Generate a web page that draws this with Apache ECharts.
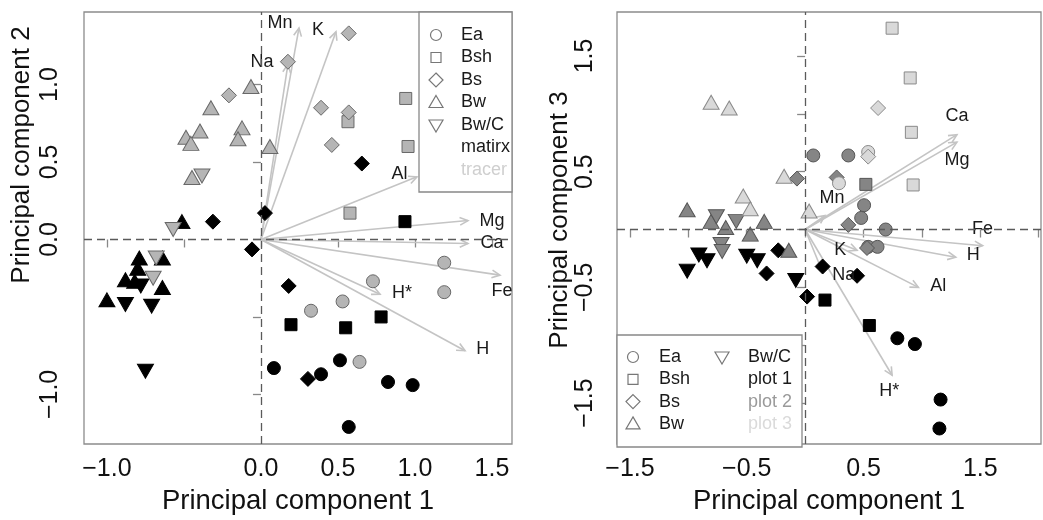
<!DOCTYPE html>
<html><head><meta charset="utf-8">
<script src="https://cdn.jsdelivr.net/npm/echarts@6/dist/echarts.min.js"></script>
<style>html,body{margin:0;padding:0;background:#fff}#c{width:1043px;height:520px}</style>
</head><body><div id="c"></div>
<script>
// ---------- DATA ----------
// Left panel: PC1 vs PC2, group = matrix / tracer
const leftPC1 = [
  -0.513,-0.312,0.026,-0.058,-0.79,-0.64,-0.80,-0.88,-0.82,-0.78,-0.64,-1.0,-0.88,-0.71,-0.75,0.18,0.195,0.084,0.305,0.935,0.78,0.55,0.513,0.39,0.825,0.985,0.57,0.655,
  0.175,-0.208,-0.065,-0.325,-0.396,-0.487,-0.455,-0.123,-0.149,0.058,-0.448,-0.383,-0.57,-0.68,-0.70,0.57,0.39,0.57,0.565,0.94,0.46,0.955,0.578,1.19,0.727,1.19,0.53,0.325,0.64
];
const leftPC2 = [
  0.115,0.115,0.17,-0.064,-0.12,-0.12,-0.186,-0.26,-0.27,-0.30,-0.31,-0.39,-0.42,-0.43,-0.85,-0.30,-0.55,-0.83,-0.90,0.115,-0.50,-0.57,-0.78,-0.87,-0.92,-0.94,-1.21,0.49,
  1.147,0.93,0.987,0.85,0.70,0.66,0.62,0.72,0.65,0.60,0.40,0.41,0.064,-0.12,-0.25,1.33,0.85,0.82,0.76,0.91,0.61,0.60,0.17,-0.15,-0.27,-0.34,-0.40,-0.46,-0.79
];
const leftHorizon = [
  'Bw','Bs','Bs','Bs','Bw','Bw','Bw','Bw','Bw','Bw/C','Bw','Bw','Bw/C','Bw/C','Bw/C','Bs','Bsh','Ea','Bs','Bsh','Bsh','Bsh','Ea','Ea','Ea','Ea','Ea','Bs',
  'Bs','Bs','Bw','Bw','Bw','Bw','Bw','Bw','Bw','Bw','Bw','Bw/C','Bw/C','Bw/C','Bw/C','Bs','Bs','Bs','Bsh','Bsh','Bs','Bsh','Bsh','Ea','Ea','Ea','Ea','Ea','Ea'
];
const leftGroup = [].concat(Array(28).fill('matrix'), Array(29).fill('tracer'));

const leftVars = ['Mn','Na','K','Al','Mg','Ca','Fe','H*','H'];
const leftLoadX = [0.247,0.175,0.487,1.013,1.344,1.344,1.552,0.773,1.325];
const leftLoadY = [1.365,1.13,1.34,0.404,0.122,-0.026,-0.23,-0.353,-0.718];
const leftLabelX = [0.123,0.006,0.37,0.90,1.50,1.50,1.565,0.915,1.44];
const leftLabelY = [1.395,1.147,1.35,0.42,0.122,-0.026,-0.333,-0.346,-0.71];

// Right panel: PC1 vs PC3, group = plot1 / plot2 / plot3
const rightPC1 = [
  -0.23,-0.91,-0.84,-1.01,-0.50,-0.41,-0.33,-0.08,0.017,0.17,0.15,0.445,0.55,0.79,0.94,1.16,1.15,
  0.07,-0.07,-1.01,-0.76,-0.805,-0.59,-0.68,-0.35,-0.47,-0.72,-0.71,-0.14,0.37,0.27,0.52,0.505,0.48,0.37,0.69,0.54,0.62,0.53,
  -0.805,-0.65,-0.18,-0.53,-0.47,0.034,0.745,0.90,0.625,0.91,0.54,0.54,0.29,0.925
];
const rightPC3 = [
  -0.18,-0.22,-0.27,-0.36,-0.23,-0.27,-0.38,-0.44,-0.58,-0.61,-0.32,-0.40,-0.83,-0.94,-0.99,-1.47,-1.72,
  0.64,0.44,0.17,0.11,0.07,0.07,0.017,0.07,-0.04,-0.13,-0.19,-0.18,0.64,0.45,0.39,0.21,0.10,0.04,0.0,-0.15,-0.15,-0.16,
  1.10,1.05,0.46,0.29,0.18,0.16,1.74,1.31,1.05,0.84,0.67,0.63,0.40,0.385
];
const rightHorizon = [
  'Bs','Bw/C','Bw/C','Bw/C','Bw/C','Bw/C','Bs','Bw/C','Bs','Bsh','Bs','Bs','Bsh','Ea','Ea','Ea','Ea',
  'Ea','Bs','Bw','Bw/C','Bw','Bw/C','Bw','Bw','Bw','Bw/C','Bw/C','Bw','Ea','Bs','Bsh','Ea','Ea','Bs','Ea','Ea','Ea','Bs',
  'Bw','Bw','Bw','Bw','Bw','Bw','Bsh','Bsh','Bs','Bsh','Ea','Bs','Ea','Bsh'
];
const rightGroup = [].concat(Array(17).fill('plot1'), Array(22).fill('plot2'), Array(14).fill('plot3'));

const rightVars = ['Ca','Mg','Mn','Fe','H','K','Al','Na','H*'];
const rightLoadX = [1.30,1.30,0.17,1.52,1.29,0.445,0.97,0.15,0.745];
const rightLoadY = [0.82,0.755,0.12,-0.14,-0.24,-0.18,-0.50,-0.37,-1.26];
const rightLabelX = [1.30,1.30,0.23,1.52,1.44,0.30,1.14,0.33,0.72];
const rightLabelY = [0.98,0.60,0.275,0.0,-0.22,-0.18,-0.49,-0.39,-1.40];

const horizons = ['Ea','Bsh','Bs','Bw','Bw/C'];
const leftTicksX = [-1,-0.5,0,0.5,1,1.5], leftLabelsX = [-1,0,0.5,1,1.5];
const leftTicksY = [-1,-0.5,0,0.5,1], leftLabelsY = [-1,0,0.5,1];
const rightTicksX = [-1.5,-1,-0.5,0,0.5,1,1.5,2], rightLabelsX = [-1.5,-0.5,0.5,1.5];
const rightTicksY = [-1.5,-1,-0.5,0,0.5,1,1.5], rightLabelsY = [-1.5,-0.5,0.5,1.5];

// ---------- STYLE ----------
const FONT = '"Liberation Sans", Arial, Helvetica, sans-serif';
const symbolOf = {Ea:'circle', Bsh:'rect', Bs:'diamond', Bw:'triangle', 'Bw/C':'triangle'};
const sizeOf = {Ea:[13,13], Bsh:[12,12], Bs:[15,15], Bw:[16,14], 'Bw/C':[16,14]};
const groupStyle = {
  matrix:{fill:'#000', border:'#000'}, tracer:{fill:'#b5b5b5', border:'#686868'},
  plot1:{fill:'#000', border:'#000'}, plot2:{fill:'#858585', border:'#555'}, plot3:{fill:'#d9d9d9', border:'#8a8a8a'}
};
const fmt = v => (v < 0 ? '\u2212' : '') + Math.abs(v).toFixed(1);

function pointSeries(pc1, pc2, hor, grp, groups, idx){
  const out = [];
  groups.forEach(g => {
    horizons.forEach(h => {
      const data = [];
      pc1.forEach((x,i) => { if (grp[i]===g && hor[i]===h) data.push([x, pc2[i]]); });
      if (!data.length) return;
      out.push({
        type:'scatter', xAxisIndex:idx, yAxisIndex:idx, z:3, silent:true,
        symbol:symbolOf[h], symbolRotate: h==='Bw/C'?180:0, symbolSize:sizeOf[h],
        itemStyle:{color:groupStyle[g].fill, borderColor:groupStyle[g].border, borderWidth:1, opacity:1},
        data
      });
    });
  });
  return out;
}

function arrowSeries(lx, ly, idx){
  return {
    type:'custom', xAxisIndex:idx, yAxisIndex:idx, z:2, silent:true, clip:false,
    data: lx.map((x,i)=>[x, ly[i]]),
    renderItem:(params, api) => {
      const p0 = api.coord([0,0]);
      const p1 = api.coord([api.value(0), api.value(1)]);
      const ang = Math.atan2(p1[1]-p0[1], p1[0]-p0[0]);
      const L = 9, a = Math.PI/7;
      const h1 = [p1[0]-L*Math.cos(ang-a), p1[1]-L*Math.sin(ang-a)];
      const h2 = [p1[0]-L*Math.cos(ang+a), p1[1]-L*Math.sin(ang+a)];
      const st = {stroke:'#c4c4c4', lineWidth:1.6, fill:null};
      return {type:'group', children:[
        {type:'line', shape:{x1:p0[0], y1:p0[1], x2:p1[0], y2:p1[1]}, style:st},
        {type:'polyline', shape:{points:[h1,p1,h2]}, style:st}
      ]};
    }
  };
}

function labelSeries(names, lx, ly, idx){
  return {
    type:'custom', xAxisIndex:idx, yAxisIndex:idx, z:4, silent:true, clip:false,
    data: lx.map((x,i)=>[x, ly[i]]),
    renderItem:(params, api) => {
      const p = api.coord([api.value(0), api.value(1)]);
      return {type:'text', x:p[0], y:p[1], style:{text:names[params.dataIndex], fill:'#1a1a1a',
        font:'18px ' + FONT, align:'center', verticalAlign:'middle'}};
    }
  };
}

function zeroLines(idx){
  return {
    type:'scatter', xAxisIndex:idx, yAxisIndex:idx, data:[], z:5, silent:true,
    markLine:{silent:true, symbol:'none', animation:false, label:{show:false},
      lineStyle:{color:'#5a5a5a', type:[8,5], width:1.3},
      data:[{xAxis:0},{yAxis:0}]}
  };
}

function xAxis(idx, min, max, ticks, labels){
  return {
    type:'value', gridIndex:idx, min, max, splitLine:{show:false},
    axisLine:{show:false}, axisTick:{show:true, inside:false, length:8, customValues:ticks, lineStyle:{color:'#888', width:1.3}},
    axisLabel:{customValues:labels, formatter:fmt, color:'#111', fontSize:25, fontFamily:FONT, margin:13},
    name:'Principal component 1', nameLocation:'middle', nameGap:43,
    nameTextStyle:{color:'#111', fontSize:27.5, fontFamily:FONT}
  };
}
function yAxis(idx, min, max, ticks, labels, margin){
  return {
    type:'value', gridIndex:idx, min, max, splitLine:{show:false},
    axisLine:{show:false}, axisTick:{show:true, inside:false, length:8, customValues:ticks, lineStyle:{color:'#888', width:1.3}},
    axisLabel:{customValues:labels, formatter:fmt, rotate:90, color:'#111', fontSize:25, fontFamily:FONT, margin, lineHeight:26}
  };
}

function legendSym(h, cx, cy){
  const st = {stroke:'#777', lineWidth:1.2, fill:null};
  if (h==='Ea') return {type:'circle', shape:{cx, cy, r:5.5}, style:st};
  if (h==='Bsh') return {type:'rect', shape:{x:cx-5, y:cy-5, width:10, height:10}, style:st};
  if (h==='Bs') return {type:'polygon', shape:{points:[[cx,cy-7],[cx+7,cy],[cx,cy+7],[cx-7,cy]]}, style:st};
  if (h==='Bw') return {type:'polygon', shape:{points:[[cx,cy-7],[cx+7,cy+5],[cx-7,cy+5]]}, style:st};
  return {type:'polygon', shape:{points:[[cx,cy+7],[cx+7,cy-5],[cx-7,cy-5]]}, style:st};
}
function legendText(t, x, y, color){
  return {type:'text', x, y, style:{text:t, fill:color, font:'18px ' + FONT, align:'left', verticalAlign:'middle'}};
}

const graphics = [];
// left legend
graphics.push({type:'rect', shape:{x:419, y:12, width:93, height:180}, style:{stroke:'#888', lineWidth:1.3, fill:'#fff'}, z:10});
horizons.forEach((h,i)=>{
  const y = 35 + i*22.5;
  graphics.push(Object.assign(legendSym(h, 436, y), {z:11}));
  graphics.push(Object.assign(legendText(h, 461, y, '#1a1a1a'), {z:11}));
});
graphics.push(Object.assign(legendText('matirx', 461, 35+5*22.5, '#1a1a1a'), {z:11}));
graphics.push(Object.assign(legendText('tracer', 461, 35+6*22.5, '#cfcfcf'), {z:11}));
// right legend
graphics.push({type:'rect', shape:{x:617, y:335, width:185, height:112}, style:{stroke:'#888', lineWidth:1.3, fill:'#fff'}, z:10});
['Ea','Bsh','Bs','Bw'].forEach((h,i)=>{
  const y = 357 + i*22.3;
  graphics.push(Object.assign(legendSym(h, 633, y), {z:11}));
  graphics.push(Object.assign(legendText(h, 659, y, '#1a1a1a'), {z:11}));
});
graphics.push(Object.assign(legendSym('Bw/C', 722, 357), {z:11}));
graphics.push(Object.assign(legendText('Bw/C', 748, 357, '#1a1a1a'), {z:11}));
graphics.push(Object.assign(legendText('plot 1', 748, 379.3, '#1a1a1a'), {z:11}));
graphics.push(Object.assign(legendText('plot 2', 748, 401.6, '#9a9a9a'), {z:11}));
graphics.push(Object.assign(legendText('plot 3', 748, 424, '#dadada'), {z:11}));
// y titles
graphics.push({type:'text', x:22, y:155, rotation:Math.PI/2, style:{text:'Principal component 2', fill:'#111', font:'26px ' + FONT, align:'center', verticalAlign:'middle'}});
graphics.push({type:'text', x:560, y:220, rotation:Math.PI/2, style:{text:'Principal component 3', fill:'#111', font:'26px ' + FONT, align:'center', verticalAlign:'middle'}});

const option = {
  animation:false,
  backgroundColor:'#fff',
  grid:[
    {left:84, top:12, width:428, height:435, show:true, borderColor:'#8c8c8c', borderWidth:1.3, backgroundColor:'#fff'},
    {left:617, top:12, width:424, height:435, show:true, borderColor:'#8c8c8c', borderWidth:1.3, backgroundColor:'#fff'}
  ],
  xAxis:[
    xAxis(0, -1.149, 1.63, leftTicksX, leftLabelsX),
    xAxis(1, -1.611, 2.02, rightTicksX, rightLabelsX)
  ],
  yAxis:[
    yAxis(0, -1.32, 1.468, leftTicksY, leftLabelsY, 21),
    yAxis(1, -1.854, 1.88, rightTicksY, rightLabelsY, 19)
  ],
  series:[].concat(
    [arrowSeries(leftLoadX, leftLoadY, 0)],
    pointSeries(leftPC1, leftPC2, leftHorizon, leftGroup, ['matrix','tracer'], 0),
    [labelSeries(leftVars, leftLabelX, leftLabelY, 0), zeroLines(0)],
    [arrowSeries(rightLoadX, rightLoadY, 1)],
    pointSeries(rightPC1, rightPC3, rightHorizon, rightGroup, ['plot1','plot2','plot3'], 1),
    [labelSeries(rightVars, rightLabelX, rightLabelY, 1), zeroLines(1)]
  ),
  graphic: graphics
};
const chart = echarts.init(document.getElementById('c'), null, {renderer:'canvas'});
chart.setOption(option);
</script></body></html>
